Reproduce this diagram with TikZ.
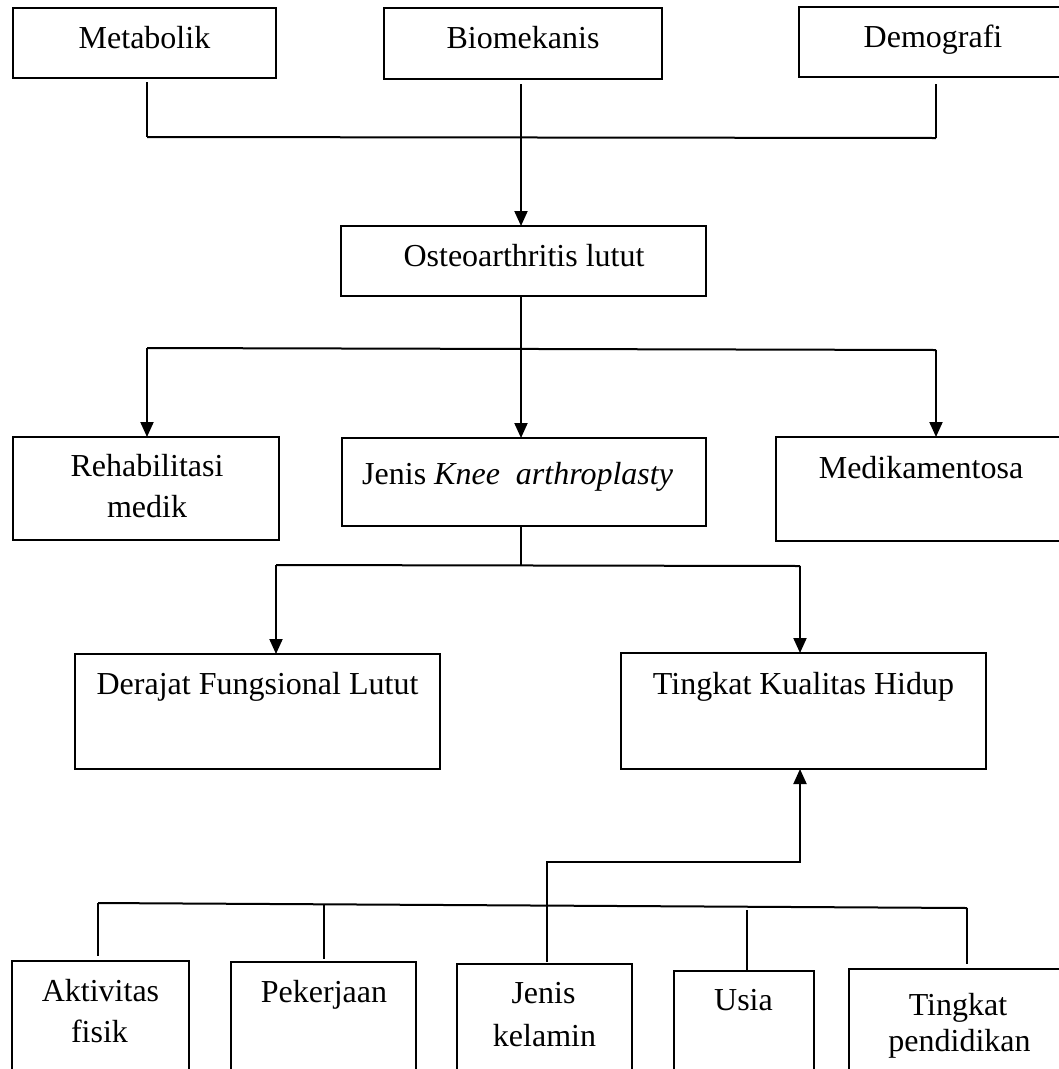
\documentclass[tikz,border=0pt]{standalone}
\usepackage{fontspec}
\setmainfont{Liberation Serif}
\usetikzlibrary{arrows.meta,calc}
\begin{document}
\begin{tikzpicture}[x=1pt,y=-1pt,
  box/.style={draw=black,line width=2pt,inner sep=0pt,outer sep=0pt,fill=none},
  txt/.style={inner sep=0pt,anchor=base,font=\fontsize{32}{38}\selectfont},
  thinline/.style={line width=1.3pt},
  thickline/.style={line width=2pt},
  arr/.style={line width=2pt,-{Triangle[length=15pt,width=13pt]}}]
\useasboundingbox (0,0) rectangle (1059,1069);
\clip (0,0) rectangle (1059,1069);
% boxes
\node[box,minimum width=263pt,minimum height=70pt] (met) at (144.5,43) {};
\node[box,minimum width=278pt,minimum height=71pt] (bio) at (523,43.5) {};
\node[box,minimum width=268pt,minimum height=70pt] (dem) at (933,42) {};
\node[box,minimum width=365pt,minimum height=70pt] (ost) at (523.5,261) {};
\node[box,minimum width=266pt,minimum height=103pt] (reh) at (146,488.5) {};
\node[box,minimum width=364pt,minimum height=88pt] (jen) at (524,482) {};
\node[box,minimum width=290pt,minimum height=104pt] (med) at (921,489) {};
\node[box,minimum width=365pt,minimum height=115pt] (der) at (257.5,711.5) {};
\node[box,minimum width=365pt,minimum height=116pt] (tkh) at (803.5,711) {};
\node[box,minimum width=177pt,minimum height=119pt] (akt) at (100.5,1020.5) {};
\node[box,minimum width=185pt,minimum height=118pt] (pek) at (323.5,1021) {};
\node[box,minimum width=175pt,minimum height=116pt] (jkl) at (544.5,1022) {};
\node[box,minimum width=140pt,minimum height=109pt] (usi) at (744,1025.5) {};
\node[box,minimum width=220pt,minimum height=111pt] (tpd) at (959,1024.5) {};
% texts
\node[txt] (metT) at (144.5,48) {Metabolik};
\node[txt] (bioT) at (523,48) {Biomekanis};
\node[txt] (demT) at (933,47) {Demografi};
\node[txt] (ostT) at (524,266) {Osteoarthritis lutut};
\node[txt] (rehT1) at (147,476) {Rehabilitasi};
\node[txt] (rehT2) at (147,517) {medik};
\node[txt,anchor=base west] (jenT) at (362,484) {Jenis \textit{Knee\ \ arthroplasty}};
\node[txt] (medT) at (921,478) {Medikamentosa};
\node[txt] (derT) at (257.5,694) {Derajat Fungsional Lutut};
\node[txt] (tkhT) at (803.5,694) {Tingkat Kualitas Hidup};
\node[txt] (aktT1) at (100.5,1001) {Aktivitas};
\node[txt] (aktT2) at (99.5,1042) {fisik};
\node[txt] (pekT) at (324,1002) {Pekerjaan};
\node[txt] (jklT1) at (543.5,1003) {Jenis};
\node[txt] (jklT2) at (544.5,1046) {kelamin};
\node[txt] (usiT) at (743.5,1010) {Usia};
\node[txt] (tpdT1) at (958,1015) {Tingkat};
\node[txt] (tpdT2) at (959.5,1051) {pendidikan};
% top connectors
\coordinate (mA) at (147,82);
\coordinate (mB) at (147,137);
\coordinate (dA) at (936,84);
\coordinate (dB) at (936,138);
\coordinate (bA) at (521,84);
\draw[thinline] (mA) -- (mB);
\draw[thinline] (dA) -- (dB);
\draw[thickline] (mB) -- (dB);
\draw[arr] (bA) -- (bA |- ost.north);
% osteo fan-out
\coordinate (oA) at (521,348);
\coordinate (rA) at (147,348);
\coordinate (mdA) at (936,350);
\draw[thinline] (ost.south -| oA) -- (oA);
\draw[thickline] (rA) -- (mdA);
\draw[arr] (rA) -- (rA |- reh.north);
\draw[arr] (oA) -- (oA |- jen.north);
\draw[arr] (mdA) -- (mdA |- med.north);
% jenis fan-out
\coordinate (jA) at (521,565);
\coordinate (dgA) at (276,565);
\coordinate (tkA) at (800,566);
\draw[thinline] (jen.south -| jA) -- (jA);
\draw[thickline] (dgA) -- (tkA);
\draw[arr] (dgA) -- (dgA |- der.north);
\draw[arr] (tkA) -- (tkA |- tkh.north);
% bottom factors
\coordinate (kC) at (547,962);
\coordinate (kM) at (547,905);
\coordinate (kA) at (547,862);
\coordinate (kB) at (800,862);
\draw[thinline] (kC) -- (kM);
\draw[arr] (kM) -- (kA) -- (kB) -- (kB |- tkh.south);
\coordinate (bL) at (98,903);
\coordinate (bR) at (967,908);
\draw[thickline] (bL) -- (bR);
\coordinate (p1) at (324,904);
\coordinate (p2) at (747,910);
\draw[thinline] (bL) -- (bL |- 0,956);
\draw[thinline] (p1) -- (p1 |- 0,959);
\draw[thinline] (p2) -- (p2 |- usi.north);
\draw[thinline] (bR) -- (bR |- 0,964);
\end{tikzpicture}
\end{document}
